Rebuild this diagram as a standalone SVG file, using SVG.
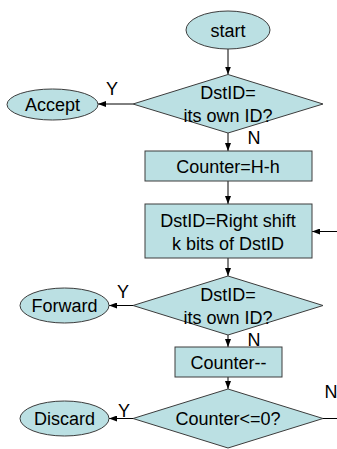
<svg xmlns="http://www.w3.org/2000/svg" width="337" height="449" viewBox="0 0 337 449">
<style>
.shape{fill:#BBE0E3;stroke:#3C3C3C;stroke-width:1}
.t{font-family:"Liberation Sans",Arial,sans-serif;font-size:18px;fill:#000;text-anchor:middle}
.c{stroke:#000;stroke-width:1;fill:none}
</style>
<defs>
<marker id="ah" markerWidth="8" markerHeight="6" refX="8" refY="3" orient="auto" markerUnits="userSpaceOnUse">
<path d="M0,0 L8,3 L0,6 Z" fill="#000"/>
</marker>
</defs>
<rect width="337" height="449" fill="#fff"/>
<g id="connectors">
<line class="c" x1="228" y1="49" x2="228" y2="74.5" marker-end="url(#ah)"/>
<line class="c" x1="133" y1="104" x2="98" y2="104" marker-end="url(#ah)"/>
<line class="c" x1="228" y1="133" x2="228" y2="151" marker-end="url(#ah)"/>
<line class="c" x1="228" y1="181" x2="228" y2="204" marker-end="url(#ah)"/>
<line class="c" x1="228" y1="258" x2="228" y2="276" marker-end="url(#ah)"/>
<line class="c" x1="133" y1="305.5" x2="109" y2="305.5" marker-end="url(#ah)"/>
<line class="c" x1="228" y1="335" x2="228" y2="347" marker-end="url(#ah)"/>
<line class="c" x1="228" y1="377" x2="228" y2="389" marker-end="url(#ah)"/>
<line class="c" x1="133" y1="418.5" x2="109" y2="418.5" marker-end="url(#ah)"/>
<polyline class="c" points="323,418.5 345,418.5 345,231.5 312,231.5" marker-end="url(#ah)"/>
<text class="t" x="112" y="95">Y</text>
<text class="t" x="254" y="144">N</text>
<text class="t" x="123" y="298">Y</text>
<text class="t" x="254" y="346">N</text>
<text class="t" x="124" y="417">Y</text>
<text class="t" x="331" y="398">N</text>
</g>
<g id="start">
<ellipse class="shape" cx="228" cy="30" rx="42" ry="19"/>
<text class="t" x="228" y="37">start</text>
</g>
<g id="check1">
<polygon class="shape" points="228,74.5 323,104 228,133 133,104"/>
<text class="t" x="228" y="99">DstID=</text>
<text class="t" x="228" y="122">its own ID?</text>
</g>
<g id="accept">
<ellipse class="shape" cx="52.5" cy="104.5" rx="45.5" ry="15.5"/>
<text class="t" x="52.5" y="111">Accept</text>
</g>
<g id="counterInit">
<rect class="shape" x="145" y="151" width="167" height="30"/>
<text class="t" x="228" y="173">Counter=H-h</text>
</g>
<g id="shift">
<rect class="shape" x="145" y="204" width="167" height="54"/>
<text class="t" x="228" y="227">DstID=Right shift</text>
<text class="t" x="228" y="250">k bits of DstID</text>
</g>
<g id="check2">
<polygon class="shape" points="228,276 323,305.5 228,335 133,305.5"/>
<text class="t" x="228" y="301">DstID=</text>
<text class="t" x="228" y="324">its own ID?</text>
</g>
<g id="forward">
<ellipse class="shape" cx="64.5" cy="305.5" rx="44.5" ry="17.5"/>
<text class="t" x="64.5" y="312">Forward</text>
</g>
<g id="decrement">
<rect class="shape" x="175" y="347" width="107" height="30"/>
<text class="t" x="228.5" y="369">Counter--</text>
</g>
<g id="check3">
<polygon class="shape" points="228,389 323,418.5 228,448 133,418.5"/>
<text class="t" x="228" y="425">Counter&lt;=0?</text>
</g>
<g id="discard">
<ellipse class="shape" cx="64.5" cy="418.5" rx="44.5" ry="17.5"/>
<text class="t" x="64.5" y="425">Discard</text>
</g>
</svg>
